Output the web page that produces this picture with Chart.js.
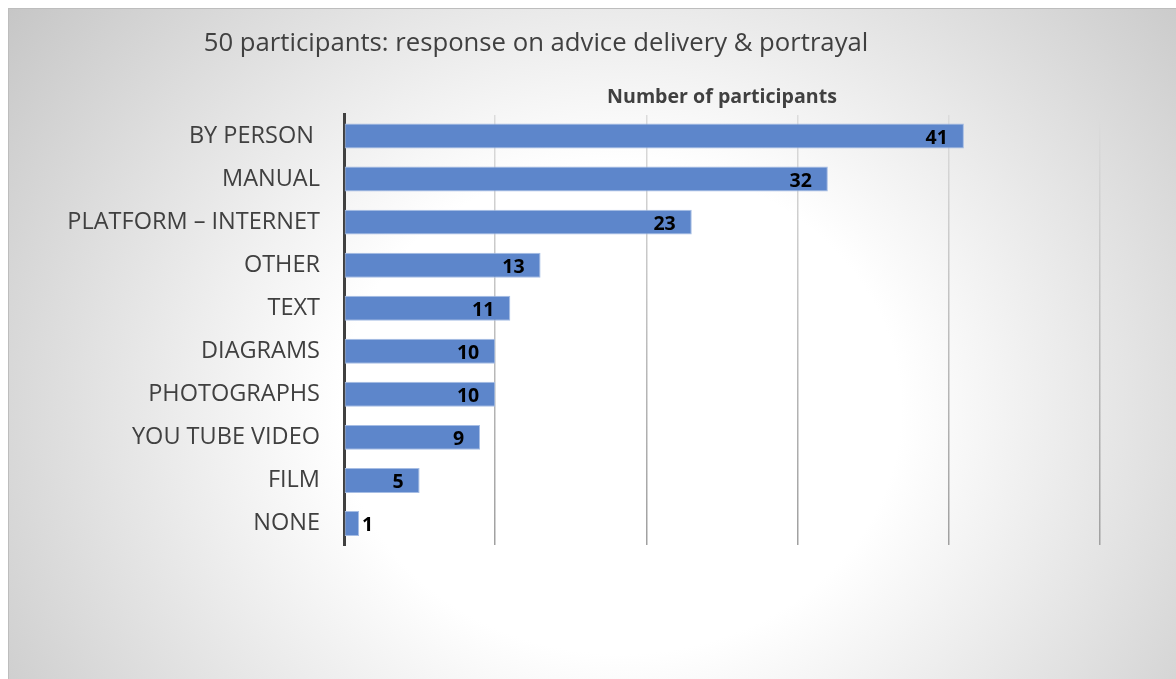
<!DOCTYPE html>
<html>
<head>
<meta charset="utf-8">
<script src="https://cdn.jsdelivr.net/npm/chart.js@4"></script>
<style>
  html, body { margin: 0; padding: 0; background: #fff; }
  #wrap {
    position: absolute; left: 8px; top: 8px; width: 1168px; height: 671px;
    border-top: 1px solid #bdbdbd; border-left: 1px solid #bdbdbd;
    background: radial-gradient(ellipse 800px 700px at 612px 400px, #ffffff 0%, #ffffff 35%, #c2c2c2 100%);
  }
  #myChart { position: absolute; left: 0; top: 0; }
</style>
</head>
<body>
<div id="wrap"></div>
<canvas id="myChart" width="1176" height="679"></canvas>
<script>
const labels = ['BY PERSON ', 'MANUAL', 'PLATFORM \u2013 INTERNET', 'OTHER', 'TEXT', 'DIAGRAMS', 'PHOTOGRAPHS', 'YOU TUBE VIDEO', 'FILM', 'NONE']
const counts = [41, 32, 23, 13, 11, 10, 10, 9, 5, 1]
const titleText = '50 participants: response on advice delivery & portrayal'
const axisTitle = 'Number of participants'

const font = "'Open Sans', sans-serif"

// chart title is off-centre in the original, so draw it ourselves
const titlePlugin = {
  id: 'titleText',
  afterDraw(chart) {
    const c = chart.ctx
    c.save()
    c.font = '25.7px ' + font
    c.fillStyle = '#404040'
    c.textAlign = 'center'
    c.textBaseline = 'middle'
    c.fillText(titleText, 536, 44)
    c.restore()
  }
}

const valueLabels = {
  id: 'valueLabels',
  afterDatasetsDraw(chart) {
    const c = chart.ctx
    const meta = chart.getDatasetMeta(0)
    c.save()
    c.font = 'bold 19.5px ' + font
    c.fillStyle = '#000'
    c.textBaseline = 'middle'
    meta.data.forEach((bar, i) => {
      const txt = String(counts[i])
      const w = c.measureText(txt).width
      if (bar.x - bar.base > w + 20) {
        c.textAlign = 'right'
        c.fillText(txt, bar.x - 16, bar.y + 2)
      } else {
        c.textAlign = 'left'
        c.fillText(txt, bar.x + 3, bar.y + 2)
      }
    })
    c.restore()
  }
}

function gridColor(ctx) {
  const area = ctx.chart.chartArea
  if (!area) return '#cccccc'
  const g = ctx.chart.ctx.createLinearGradient(0, area.top, 0, area.bottom)
  g.addColorStop(0, '#dcdcdc')
  g.addColorStop(1, '#a0a0a0')
  return g
}

const config = {
  type: 'bar',
  data: {
    labels: labels,
    datasets: [{
      data: counts,
      backgroundColor: '#5d86cb',
      borderColor: '#a6bde4',
      borderWidth: 1,
      borderSkipped: false,
      barPercentage: 0.58,
      categoryPercentage: 1
    }]
  },
  options: {
    indexAxis: 'y',
    responsive: false,
    animation: false,
    layout: { padding: { top: 86, right: 76, bottom: 134, left: 0 } },
    plugins: {
      legend: { display: false },
      title: { display: false },
      tooltip: { enabled: false }
    },
    scales: {
      x: {
        position: 'top',
        min: 0,
        max: 50,
        ticks: { display: false, stepSize: 10 },
        border: { display: false },
        grid: {
          drawTicks: false,
          color: ctx => ctx.tick && ctx.tick.value === 0 ? 'rgba(0,0,0,0)' : gridColor(ctx),
          lineWidth: 1.5
        },
        title: {
          display: true,
          text: axisTitle,
          color: '#404040',
          font: { family: font, size: 19.6, weight: 'bold' },
          padding: { top: 0, bottom: 5 }
        }
      },
      y: {
        afterFit: scale => { scale.width = 344 },
        grid: { display: false, drawTicks: false },
        border: { display: true, color: '#404040', width: 3 },
        ticks: {
          color: '#404040',
          padding: 24,
          font: { family: font, size: 23.5 }
        }
      }
    }
  },
  plugins: [titlePlugin, valueLabels]
}

const myChart = new Chart(document.getElementById('myChart'), config)
</script>
</body>
</html>
